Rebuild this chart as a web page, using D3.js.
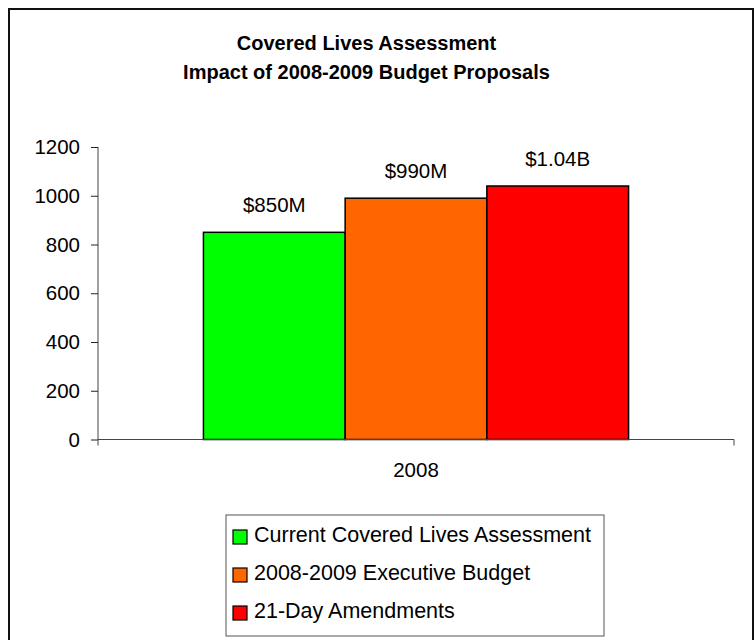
<!DOCTYPE html>
<html>
<head>
<meta charset="utf-8">
<script src="https://cdn.jsdelivr.net/npm/d3@7"></script>
<style>
  body { margin: 0; background: #fff; }
  svg { display: block; font-family: Arial, "Liberation Sans", sans-serif; }
</style>
</head>
<body>
<script>
const categories = ["2008"];
const seriesNames = ["Current Covered Lives Assessment", "2008-2009 Executive Budget", "21-Day Amendments"];
const seriesValues = [850, 990, 1040];
const seriesLabels = ["$850M", "$990M", "$1.04B"];
const seriesColors = ["#00ff00", "#ff6600", "#ff0000"];
const yTicks = [0, 200, 400, 600, 800, 1000, 1200];
const titleLines = ["Covered Lives Assessment", "Impact of 2008-2009 Budget Proposals"];

const width = 754, height = 640;
const plot = {left: 98, right: 734, top: 147, bottom: 439.5};

const svg = d3.select("body").append("svg")
    .attr("width", width)
    .attr("height", height);

// frame
svg.append("rect")
    .attr("x", 9).attr("y", 9)
    .attr("width", 744).attr("height", 640)
    .attr("fill", "white")
    .attr("stroke", "#111")
    .attr("stroke-width", 2);

// title
svg.append("g").selectAll("text")
    .data(titleLines)
    .join("text")
    .attr("x", 366.5)
    .attr("y", (d, i) => 50 + i * 29)
    .attr("text-anchor", "middle")
    .style("font-size", "20px")
    .style("font-weight", "bold")
    .text(d => d);

const x = d3.scaleBand()
    .domain(categories)
    .range([plot.left, plot.right])
    .paddingInner(0)
    .paddingOuter(0.248);

const xs = d3.scaleBand()
    .domain(seriesNames)
    .range([0, x.bandwidth()]);

const y = d3.scaleLinear()
    .domain([0, 1200])
    .range([plot.bottom, plot.top]);

// bars
const groups = svg.append("g").selectAll("g")
    .data(categories)
    .join("g")
    .attr("transform", d => `translate(${x(d)},0)`);

groups.selectAll("rect")
    .data(seriesNames.map((s, i) => ({s, v: seriesValues[i], c: seriesColors[i], l: seriesLabels[i]})))
    .join("rect")
    .attr("x", d => xs(d.s))
    .attr("y", d => y(d.v))
    .attr("width", xs.bandwidth())
    .attr("height", d => y(0) - y(d.v))
    .attr("fill", d => d.c)
    .attr("stroke", "#000")
    .attr("stroke-width", 1.5);

groups.selectAll("text")
    .data(seriesNames.map((s, i) => ({s, v: seriesValues[i], l: seriesLabels[i]})))
    .join("text")
    .attr("x", d => xs(d.s) + xs.bandwidth() / 2)
    .attr("y", d => y(d.v) - 20)
    .attr("text-anchor", "middle")
    .style("font-size", "20.5px")
    .text(d => d.l);

// y axis
const yAxis = svg.append("g")
    .attr("transform", `translate(${plot.left},0)`)
    .call(d3.axisLeft(y).tickValues(yTicks).tickFormat(d3.format("d"))
        .tickSize(7).tickPadding(11).tickSizeOuter(0));
yAxis.select(".domain").attr("d", `M0,${plot.top}V${plot.bottom + 6}`).attr("stroke", "#444");
yAxis.selectAll(".tick line").attr("stroke", "#222");
yAxis.selectAll(".tick text").style("font-size", "20.5px").attr("fill", "#000");

// x axis
const xAxis = svg.append("g")
    .attr("transform", `translate(0,${plot.bottom})`)
    .call(d3.axisBottom(x).tickSize(0).tickPadding(23).tickSizeOuter(0));
xAxis.select(".domain").attr("d", `M${plot.left},0H${plot.right}V6`).attr("stroke", "#444");
xAxis.selectAll(".tick text").style("font-size", "20.5px").attr("fill", "#000");

// legend
const legend = svg.append("g");
legend.append("rect")
    .attr("x", 226).attr("y", 515)
    .attr("width", 378).attr("height", 121)
    .attr("fill", "white")
    .attr("stroke", "#555")
    .attr("stroke-width", 1);

const items = legend.selectAll("g.item")
    .data(seriesNames)
    .join("g")
    .attr("class", "item")
    .attr("transform", (d, i) => `translate(233,${536 + i * 38})`);

items.append("rect")
    .attr("x", 0).attr("y", -6)
    .attr("width", 14).attr("height", 14)
    .attr("fill", (d, i) => seriesColors[i])
    .attr("stroke", "#000")
    .attr("stroke-width", 1.2);

items.append("text")
    .attr("x", 21)
    .attr("y", 6)
    .style("font-size", "21.5px")
    .text(d => d);
</script>
</body>
</html>
